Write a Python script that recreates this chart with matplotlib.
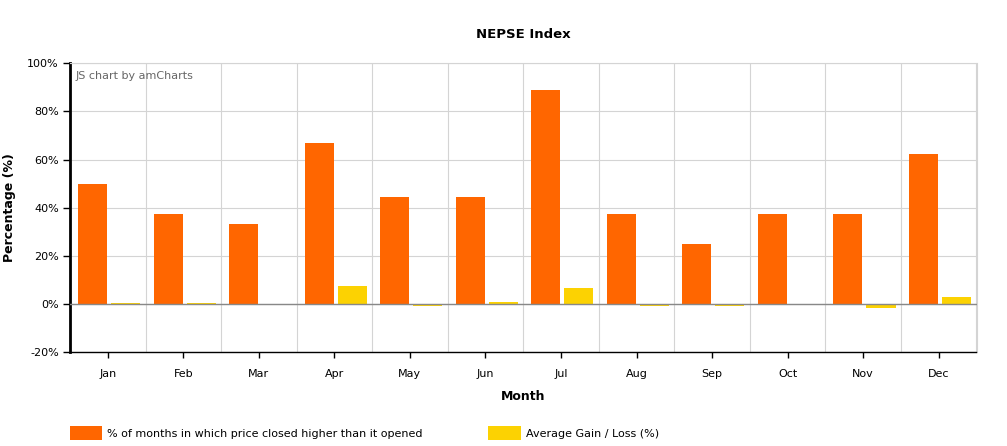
import matplotlib
matplotlib.use("Agg")
import matplotlib.pyplot as plt
import numpy as np

months = ["Jan", "Feb", "Mar", "Apr", "May", "Jun", "Jul", "Aug", "Sep", "Oct", "Nov", "Dec"]
pct_higher = [50.0, 37.5, 33.3, 66.7, 44.4, 44.4, 88.9, 37.5, 25.0, 37.5, 37.5, 62.5]
avg_gain = [0.4, 0.4, -0.2, 7.5, -0.6, 0.9, 6.6, -0.6, -0.6, -0.2, -1.8, 2.9]
yticks = [-20, 0, 20, 40, 60, 80, 100]

plt.rcParams['font.family'] = ['DejaVu Sans']

fig = plt.figure(figsize=(10.07, 4.46), dpi=100)
ax = fig.add_axes([70 / 1007, 1 - 352.3 / 446, 906.5 / 1007, 289 / 446])

x = np.arange(len(months))
w = 0.385
b1 = ax.bar(x - 0.202, pct_higher, w, color="#FF6600", zorder=3,
            label="% of months in which price closed higher than it opened")
b2 = ax.bar(x + 0.236, avg_gain, w, color="#FCD202", zorder=3,
            label="Average Gain / Loss (%)")

ax.set_xlim(-0.5, len(months) - 0.5)
ax.set_ylim(-20, 100)
ax.set_xticks(x)
ax.set_xticklabels(months, fontsize=8)
ax.set_xticks(np.arange(len(months)) + 0.5, minor=True)
ax.set_yticks(yticks)
ax.set_yticklabels([f"{v}%" for v in yticks], fontsize=8)

ax.grid(axis="y", which="major", color="#d4d4d4", linewidth=0.8, zorder=0)
ax.grid(axis="x", which="minor", color="#d4d4d4", linewidth=0.8, zorder=0)
ax.grid(axis="x", which="major", visible=False)
ax.tick_params(axis="x", which="minor", length=0)
ax.tick_params(axis="x", which="major", length=4, width=1, color="black", pad=8)
ax.tick_params(axis="y", length=5, width=1, color="black", pad=3)
ax.axhline(0, color="#888888", linewidth=1, zorder=4)

for s in ["top", "right"]:
    ax.spines[s].set_color("#d4d4d4")
    ax.spines[s].set_linewidth(0.8)
ax.spines["left"].set_linewidth(2)
ax.spines["left"].set_color("black")
ax.spines["bottom"].set_linewidth(1)
ax.spines["bottom"].set_color("black")

ax.set_xlabel("Month", fontsize=9, fontweight="bold", labelpad=8)
ax.set_ylabel("Percentage (%)", fontsize=9, fontweight="bold", labelpad=8)
ax.text(0.006, 0.955, "JS chart by amCharts", transform=ax.transAxes,
        fontsize=8, color="#666666", va="center", ha="left")

fig.text(523 / 1007, 1 - 34 / 446, "NEPSE Index", fontsize=9.5, fontweight="bold",
         ha="center", va="center")

fig.legend(handles=[b1, b2], loc="center left", bbox_to_anchor=(60 / 1007, 1 - 433 / 446),
           ncol=2, frameon=False, fontsize=8, handlelength=2.9, handleheight=1.5,
           handletextpad=0.45, columnspacing=5.9)

fig.savefig("out.png", dpi=100)
